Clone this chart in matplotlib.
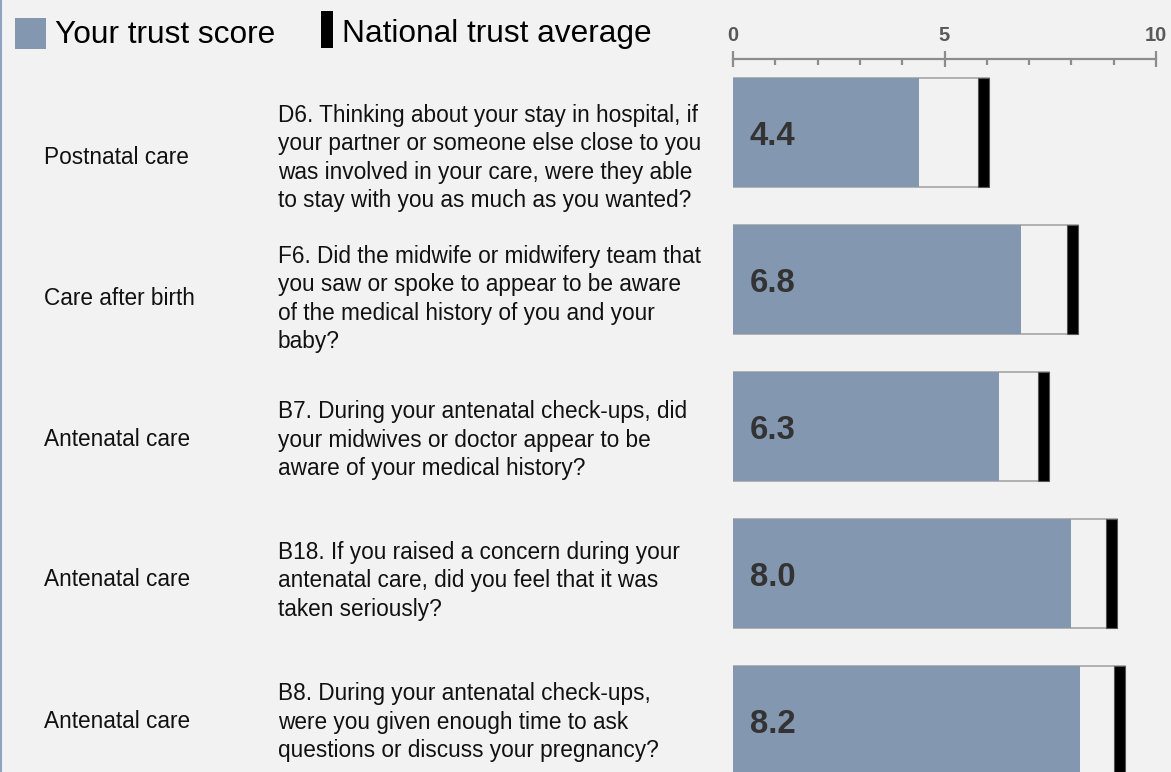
import matplotlib
matplotlib.use("Agg")
import matplotlib.pyplot as plt
from matplotlib.patches import Rectangle

plt.rcParams['font.family'] = ['Liberation Sans', 'DejaVu Sans']

# ---- data ----
sections = ["Postnatal care", "Care after birth", "Antenatal care", "Antenatal care", "Antenatal care"]
questions = [
    "D6. Thinking about your stay in hospital, if\nyour partner or someone else close to you\nwas involved in your care, were they able\nto stay with you as much as you wanted?",
    "F6. Did the midwife or midwifery team that\nyou saw or spoke to appear to be aware\nof the medical history of you and your\nbaby?",
    "B7. During your antenatal check-ups, did\nyour midwives or doctor appear to be\naware of your medical history?",
    "B18. If you raised a concern during your\nantenatal care, did you feel that it was\ntaken seriously?",
    "B8. During your antenatal check-ups,\nwere you given enough time to ask\nquestions or discuss your pregnancy?",
]
trust_scores = [4.4, 6.8, 6.3, 8.0, 8.2]
national_avg = [5.93, 8.03, 7.33, 8.94, 9.13]
major_ticks = [0, 5, 10]
minor_ticks = [1, 2, 3, 4, 6, 7, 8, 9]

W, H = 1171, 772
BG = '#f2f2f2'
BLUE = '#8497b0'

fig = plt.figure(figsize=(W / 100, H / 100), dpi=100, facecolor=BG)

ax = fig.add_axes([733 / W, 0, 423 / W, 1])
ax.set_facecolor('none')
ax.set_xlim(0, 10)
ax.set_ylim((H - 132.5) / 147.0, -132.5 / 147.0)

bar_h = 109 / 147.0
mark_w = 0.26
for i, (s, a) in enumerate(zip(trust_scores, national_avg)):
    ax.add_patch(Rectangle((0, i - bar_h / 2), a + mark_w / 2, bar_h,
                           facecolor=BG, edgecolor='#a6a6a6', lw=1.2, zorder=1))
    ax.barh(i, s, height=bar_h, left=0, color=BLUE, zorder=2)
    ax.add_patch(Rectangle((a - mark_w / 2, i - bar_h / 2), mark_w, bar_h,
                           facecolor='black', edgecolor='#555555', lw=0.8, zorder=3))
    ax.text(0.4, i + 0.03, f"{s:.1f}", ha='left', va='center', fontsize=23.7,
            fontweight='bold', color='#333333', zorder=4)

for sp in ['left', 'right', 'bottom']:
    ax.spines[sp].set_visible(False)
ax.spines['top'].set_position(('data', -0.5))
ax.spines['top'].set_color('#8c8c8c')
ax.spines['top'].set_linewidth(1.6)
ax.set_yticks([])
ax.xaxis.set_ticks_position('top')
ax.set_xticks(major_ticks)
ax.set_xticks(minor_ticks, minor=True)
ax.tick_params(axis='x', which='major', direction='inout', length=12, width=1.6,
               color='#8c8c8c', pad=4, labelsize=14.5, labelcolor='#595959')
ax.tick_params(axis='x', which='minor', direction='in', length=4.5, width=1.6,
               color='#8c8c8c')
for lab in ax.get_xticklabels():
    lab.set_fontweight('bold')

for i in range(len(sections)):
    row_y = 157 + 141 * i
    fig.text(44 / W, 1 - row_y / H, sections[i], ha='left', va='center',
             fontsize=16.3, color='#111111')
    fig.text(278 / W, 1 - (row_y + 1) / H, questions[i], ha='left', va='center',
             fontsize=16.3, color='#111111', linespacing=1.3)

# legend
fig.add_artist(Rectangle((15 / W, 1 - 49 / H), 31 / W, 31 / H, transform=fig.transFigure,
                         facecolor=BLUE, edgecolor='none'))
fig.text(55 / W, 1 - 43 / H, "Your trust score", ha='left', va='baseline', fontsize=22.8,
         color='black')
fig.add_artist(Rectangle((321 / W, 1 - 48 / H), 12 / W, 37 / H, transform=fig.transFigure,
                         facecolor='black', edgecolor='none'))
fig.text(342 / W, 1 - 41.7 / H, "National trust average", ha='left', va='baseline',
         fontsize=22.8, color='black')

fig.add_artist(plt.Line2D([1 / W, 1 / W], [0, 1], transform=fig.transFigure,
                          color='#8ea3c4', lw=1.5))

fig.savefig('out.png', dpi=100, facecolor=BG)
